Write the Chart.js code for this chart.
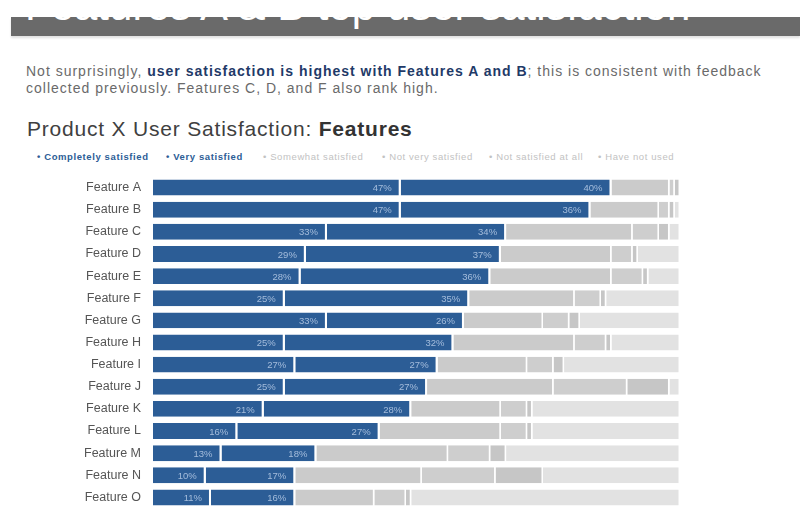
<!DOCTYPE html>
<html>
<head>
<meta charset="utf-8">
<script src="https://cdn.jsdelivr.net/npm/chart.js@4.4.0/dist/chart.umd.min.js"></script>
<style>
  html, body { margin: 0; padding: 0; background: #fff; overflow: hidden; }
  body { width: 800px; height: 508px; position: relative; font-family: "Liberation Sans", Arial, sans-serif; }
  .bar { position: absolute; left: 11px; top: 17px; width: 789px; height: 19px; background: #6a6a6a;
         box-shadow: 0 2px 2px rgba(0,0,0,0.12); }
  .btitle { position: absolute; left: 25px; top: -15px; color: #fff; font-size: 42px; line-height: 42px; white-space: nowrap; }
  .sub { position: absolute; left: 26px; top: 63px; width: 775px; font-size: 14px; line-height: 16.5px; color: #6a6a6a; letter-spacing: 1px; }
  .sub b { color: #1f3a68; }
  .ctitle { position: absolute; left: 27px; top: 117px; font-size: 21px; color: #404040; white-space: nowrap; letter-spacing: 0.8px; }
  .ctitle b { color: #333; }
  .leg { position: absolute; top: 151px; font-size: 9.5px; white-space: nowrap; letter-spacing: 0.6px; }
  .leg.on { color: #2c5d96; font-weight: bold; }
  .leg.off { color: #c2c2c2; }
  #chart { position: absolute; left: 0; top: 165px; }
</style>
</head>
<body>
<div class="bar"></div>
<div class="btitle">Features A &amp; B top user satisfaction</div>
<div class="sub">Not surprisingly, <b>user satisfaction is highest with Features A and B</b>; this is consistent with feedback collected previously. Features C, D, and F also rank high.</div>
<div class="ctitle">Product X User Satisfaction: <b>Features</b></div>
<div id="legend"></div>
<canvas id="chart" width="800" height="355"></canvas>
<script>
const features = ["Feature A", "Feature B", "Feature C", "Feature D", "Feature E", "Feature F", "Feature G",
  "Feature H", "Feature I", "Feature J", "Feature K", "Feature L", "Feature M", "Feature N", "Feature O"];

const completelySatisfied = [47, 47, 33, 29, 28, 25, 33, 25, 27, 25, 21, 16, 13, 10, 11];
const verySatisfied       = [40, 36, 34, 37, 36, 35, 26, 32, 27, 27, 28, 27, 18, 17, 16];
const somewhatSatisfied   = [11, 13, 24, 21, 23, 20, 15, 23, 17, 24, 17, 23, 25, 24, 15];
const notVerySatisfied    = [1, 2, 5, 4, 6, 5, 5, 6, 5, 14, 5, 5, 8, 14, 6];
const notSatisfiedAtAll   = [1, 1, 2, 1, 1, 1, 2, 1, 2, 8, 1, 1, 3, 9, 1];
const haveNotUsed         = [0, 1, 2, 8, 6, 14, 19, 13, 22, 2, 28, 28, 33, 26, 51];

const seriesNames  = ["Completely satisfied", "Very satisfied", "Somewhat satisfied",
  "Not very satisfied", "Not satisfied at all", "Have not used"];
const seriesColors = ["#2c5d96", "#2c5d96", "#cbcbcb", "#cecece", "#c6c6c6", "#e2e2e2"];
const legendX = [37, 166, 263, 382, 489, 598];

// legend (html)
const legendEl = document.getElementById("legend");
seriesNames.forEach((name, i) => {
  const d = document.createElement("div");
  d.className = "leg " + (i < 2 ? "on" : "off");
  d.style.left = legendX[i] + "px";
  d.textContent = "\u2022 " + name;
  legendEl.appendChild(d);
});

const values = [completelySatisfied, verySatisfied, somewhatSatisfied, notVerySatisfied, notSatisfiedAtAll, haveNotUsed];

// percent labels on the blue segments
const barLabels = {
  id: "barLabels",
  afterDatasetsDraw(chart) {
    const ctx = chart.ctx;
    ctx.save();
    ctx.font = "9.5px 'Liberation Sans', Arial, sans-serif";
    ctx.fillStyle = "rgba(185,205,232,0.85)";
    ctx.textAlign = "right";
    ctx.textBaseline = "middle";
    [0, 1].forEach((di) => {
      chart.getDatasetMeta(di).data.forEach((bar, i) => {
        ctx.fillText(values[di][i] + "%", bar.x - 9, bar.y + 1);
      });
    });
    ctx.restore();
  }
};

new Chart(document.getElementById("chart"), {
  type: "bar",
  data: {
    labels: features,
    datasets: values.map((v, i) => ({
      label: seriesNames[i],
      data: v,
      backgroundColor: seriesColors[i],
      borderColor: "#ffffff",
      borderWidth: { left: 0, right: i < 2 ? 2 : 1.5, top: 0, bottom: 0 },
      borderSkipped: false,
      barPercentage: 0.72,
      categoryPercentage: 1
    }))
  },
  options: {
    indexAxis: "y",
    responsive: false,
    animation: false,
    layout: { padding: { top: 5, bottom: 2, left: 0, right: 120 } },
    plugins: { legend: { display: false }, tooltip: { enabled: false } },
    scales: {
      x: { stacked: true, min: 0, max: 100, display: false },
      y: {
        stacked: true,
        grid: { display: false },
        border: { display: false },
        ticks: { color: "#555", padding: 4, font: { size: 12.5, family: "'Liberation Sans', Arial, sans-serif" } },
        afterFit(scale) { scale.width = 153; }
      }
    }
  },
  plugins: [barLabels]
});
</script>
</body>
</html>
